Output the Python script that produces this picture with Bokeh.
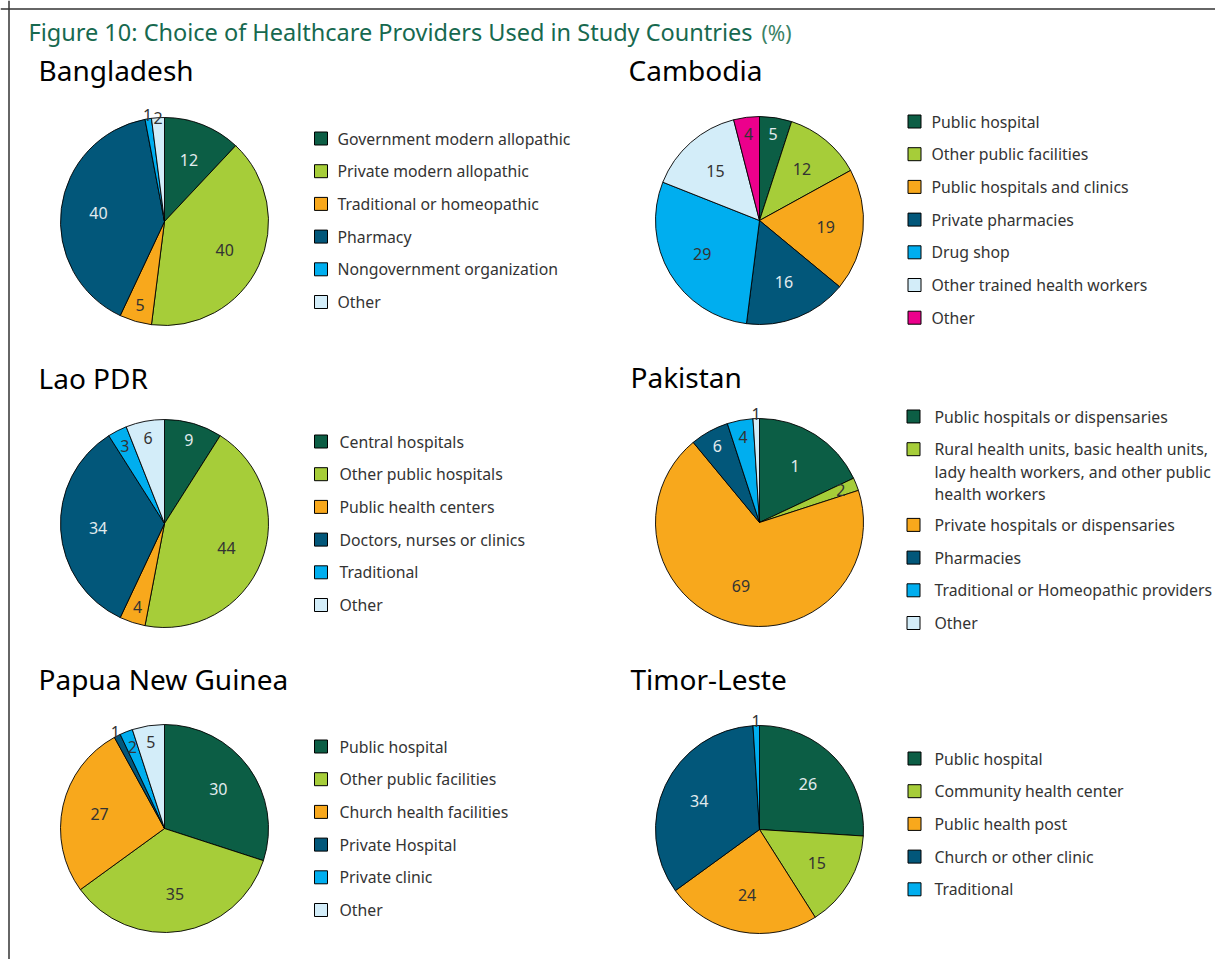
import numpy as np
from bokeh.plotting import figure
from bokeh.models import Range1d, Span, ColumnDataSource
from bokeh.core.properties import value
from bokeh.embed import file_html
from bokeh.resources import INLINE

# ---------------- data ----------------
title_text = "Figure 10: Choice of Healthcare Providers Used in Study Countries"
title_unit = "(%)"

bangladesh_categories = ["Government modern allopathic", "Private modern allopathic",
                         "Traditional or homeopathic", "Pharmacy",
                         "Nongovernment organization", "Other"]
bangladesh_values = [12, 40, 5, 40, 1, 2]

cambodia_categories = ["Public hospital", "Other public facilities", "Public hospitals and clinics",
                       "Private pharmacies", "Drug shop", "Other trained health workers", "Other"]
cambodia_values = [5, 12, 19, 16, 29, 15, 4]

lao_categories = ["Central hospitals", "Other public hospitals", "Public health centers",
                  "Doctors, nurses or clinics", "Traditional", "Other"]
lao_values = [9, 44, 4, 34, 3, 6]

pakistan_categories = ["Public hospitals or dispensaries",
                       "Rural health units, basic health units,\nlady health workers, and other public\nhealth workers",
                       "Private hospitals or dispensaries", "Pharmacies",
                       "Traditional or Homeopathic providers", "Other"]
pakistan_values = [18, 2, 69, 6, 4, 1]
pakistan_labels = ["1", "2", "69", "6", "4", "1"]   # as printed in the source chart

png_categories = ["Public hospital", "Other public facilities", "Church health facilities",
                  "Private Hospital", "Private clinic", "Other"]
png_values = [30, 35, 27, 1, 2, 5]

timor_categories = ["Public hospital", "Community health center", "Public health post",
                    "Church or other clinic", "Traditional"]
timor_values = [26, 15, 24, 34, 1]

# ---------------- styles ----------------
FONT = "Noto Sans"
GREEN = "#0c5e45"
YGREEN = "#a6cd39"
ORANGE = "#f8a81c"
DBLUE = "#02577a"
BBLUE = "#00aeef"
LBLUE = "#d3edf9"
MAGENTA = "#ec008c"
DARK_SLICES = {GREEN, DBLUE}
six_colors = [GREEN, YGREEN, ORANGE, DBLUE, BBLUE, LBLUE]

W, H = 1215, 959
R = 104


def fy(py):
    return H - py


def fx(px):
    return px


p = figure(width=W, height=H, x_range=Range1d(0, W), y_range=Range1d(0, H),
           output_backend="svg", toolbar_location=None,
           x_axis_location=None, y_axis_location=None, min_border=0)
p.grid.visible = False
p.outline_line_color = None
p.background_fill_color = "white"

p.add_layout(Span(location=fx(8.5), dimension="height", line_color="#333333", line_width=1.5))
p.add_layout(Span(location=fy(8.5), dimension="width", line_color="#333333", line_width=1.5))

p.text(x=[fx(28)], y=[fy(31)], text=[title_text], text_font=value(FONT),
       text_font_size="23.5px", text_color="#17694f", text_baseline="middle")
p.text(x=[fx(761)], y=[fy(32)], text=[title_unit], text_font=value(FONT),
       text_font_size="21px", text_color="#3a8266", text_baseline="middle")


def draw_country(name, tx, tcy, cx, cy, values, labels, categories, colors,
                 leg_sq_x, leg_tx, leg_y0, overrides=None):
    overrides = overrides or {}
    p.text(x=[fx(tx)], y=[fy(tcy)], text=[name], text_font=value(FONT),
           text_font_size="28px", text_color="black", text_baseline="middle")
    vals = np.array(values, dtype=float)
    cum = np.concatenate([[0], np.cumsum(vals)]) / vals.sum()
    start = np.pi / 2 - 2 * np.pi * cum[1:]
    end = np.pi / 2 - 2 * np.pi * cum[:-1]
    src = ColumnDataSource(dict(start=start, end=end, color=colors))
    p.wedge(x=fx(cx), y=fy(cy), radius=R, start_angle="start", end_angle="end",
            fill_color="color", line_color="black", line_width=0.9, source=src)
    mid = np.pi / 2 - 2 * np.pi * (cum[:-1] + cum[1:]) / 2
    xs, ys, tcols = [], [], []
    for i, v in enumerate(values):
        if i in overrides:
            rf = overrides[i]
        elif v <= 1:
            rf = 1.04
        elif v < 10:
            rf = 0.84
        else:
            rf = 0.64
        xs.append(fx(cx) + rf * R * np.cos(mid[i]))
        ys.append(fy(cy) + rf * R * np.sin(mid[i]))
        if rf < 1 and colors[i] in DARK_SLICES:
            tcols.append("#e2ebee")
        else:
            tcols.append("#333333")
    p.text(x=xs, y=ys, text=labels, text_align="center", text_baseline="middle",
           text_font=value(FONT), text_font_size="16px", text_color=tcols)
    # legend
    extra = 0
    for i, cat in enumerate(categories):
        y = leg_y0 + i * 32.7 + extra * 21.5
        p.rect(x=fx(leg_sq_x), y=fy(y), width=13, height=13, fill_color=colors[i],
               line_color="black", line_width=1)
        lines = cat.split("\n")
        for j, ln in enumerate(lines):
            p.text(x=[fx(leg_tx)], y=[fy(y + j * 22.5)], text=[ln], text_font=value(FONT),
                   text_font_size="15.8px", text_color="#333333", text_baseline="middle")
        extra += len(lines) - 1


draw_country("Bangladesh", 38, 69, 164, 221, bangladesh_values,
             [str(v) for v in bangladesh_values], bangladesh_categories, six_colors,
             320.5, 337, 138, overrides={5: 1.0})
draw_country("Cambodia", 628, 69, 759, 220, cambodia_values,
             [str(v) for v in cambodia_values], cambodia_categories, six_colors + [MAGENTA],
             914, 931, 121)
draw_country("Lao PDR", 38, 377, 164, 523, lao_values,
             [str(v) for v in lao_values], lao_categories, six_colors,
             320.5, 339, 441)
draw_country("Pakistan", 630, 376, 759, 522, pakistan_values,
             pakistan_labels, pakistan_categories, six_colors,
             913, 934, 416)
draw_country("Papua New Guinea", 38, 678, 164, 828, png_values,
             [str(v) for v in png_values], png_categories, six_colors,
             320.5, 339, 746)
draw_country("Timor-Leste", 630, 678, 759, 829, timor_values,
             [str(v) for v in timor_values], timor_categories, six_colors[:5],
             914, 934, 758)

open("out.html", "w").write(file_html(p, INLINE))
